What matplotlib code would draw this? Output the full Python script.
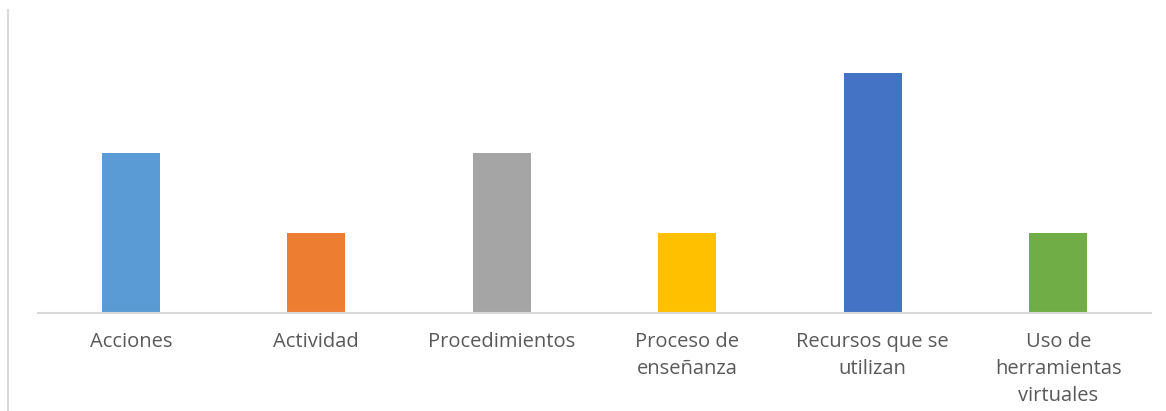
import matplotlib.pyplot as plt
from matplotlib.lines import Line2D

categories = ['Acciones', 'Actividad', 'Procedimientos', 'Proceso de\nenseñanza',
              'Recursos que se\nutilizan', 'Uso de\nherramientas\nvirtuales']
values = [2, 1, 2, 1, 3, 1]
colors = ['#5b9bd5', '#ed7d31', '#a5a5a5', '#ffc000', '#4472c4', '#70ad47']

plt.rcParams['font.family'] = ['Open Sans', 'DejaVu Sans']

fig = plt.figure(figsize=(11.66, 4.11), dpi=100)
ax = fig.add_axes([38 / 1166, (411 - 313) / 411, 1113 / 1166, 280 / 411])

x = range(len(categories))
ax.bar(x, values, width=0.31, color=colors)
ax.set_xlim(-0.5, len(categories) - 0.5)
ax.set_ylim(0, 3.5)
ax.set_xticks(list(x))
ax.set_xticklabels(categories, fontsize=14.5, color='#595959', linespacing=1.45)
ax.tick_params(axis='x', length=0, pad=14)
ax.set_yticks([])
for s in ['top', 'right', 'left']:
    ax.spines[s].set_visible(False)
ax.spines['bottom'].set_color('#d9d9d9')
ax.spines['bottom'].set_linewidth(1.5)

# outer border line on the left
fig.add_artist(Line2D([8 / 1166, 8 / 1166], [0, 1 - 10 / 411],
                      transform=fig.transFigure, color='#d9d9d9', linewidth=1.5))

plt.savefig('out.png', dpi=100)
